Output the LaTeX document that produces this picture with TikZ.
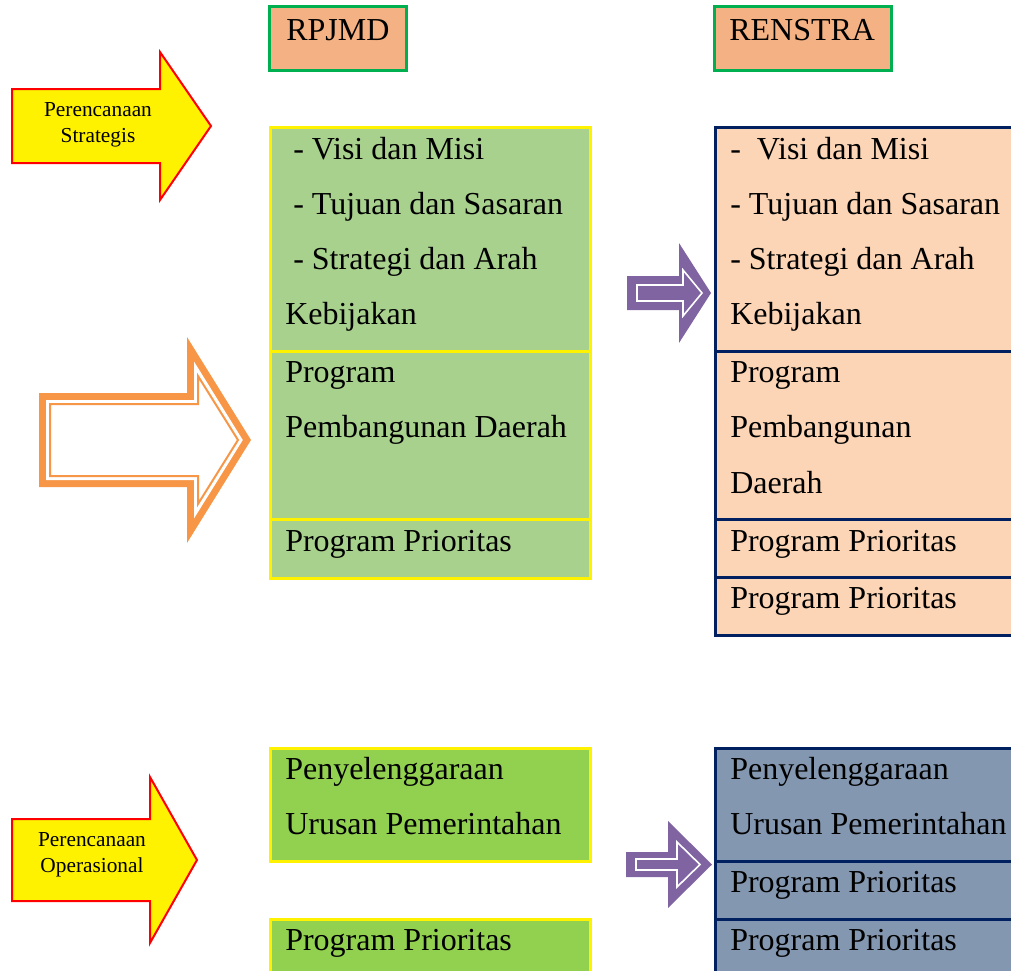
\documentclass[tikz,border=0pt]{standalone}
\usepackage{fontspec}
\setmainfont{Liberation Serif}

\definecolor{hdrfill}{HTML}{F4B183}
\definecolor{hdrline}{HTML}{00B050}
\definecolor{rpfill}{HTML}{A9D18E}
\definecolor{rsfill}{HTML}{FBD5B5}
\definecolor{opfill}{HTML}{92D050}
\definecolor{osfill}{HTML}{8497B0}
\definecolor{navy}{HTML}{002060}
\definecolor{purp}{HTML}{8064A2}
\definecolor{oranye}{HTML}{F79646}

\tikzset{
  hdr/.style={fill=hdrfill,draw=hdrline,line width=2.25pt},
  rpbox/.style={fill=rpfill,draw=yellow,line width=2.25pt},
  rsbox/.style={fill=rsfill,draw=navy,line width=2.25pt},
  opbox/.style={fill=opfill,draw=yellow,line width=2.25pt},
  osbox/.style={fill=osfill,draw=navy,line width=2.25pt},
  yarrow/.style={fill=yellow,draw=red,line width=1.5pt},
  txt/.style={anchor=base west,inner sep=0pt,font=\fontsize{24}{29}\selectfont},
  small/.style={align=center,inner sep=0pt,font=\fontsize{16}{19.5}\selectfont}
}

\begin{document}
\begin{tikzpicture}[x=0.75pt,y=-0.75pt]
  \useasboundingbox (0,0) rectangle (1011,971);
  \clip (0,0) rectangle (1011,971);

  % judul kolom
  \draw[hdr] (269,6) rectangle (406,70);
  \draw[hdr] (714,6) rectangle (891,70);
  \node[txt] (rpjmd) at (286,40) {RPJMD};
  \node[txt] (renstra) at (729,40) {RENSTRA};

  % panah kuning
  \draw[yarrow] (12,89)--(160,89)--(160,52)--(211,126)--(160,200)--(160,163)--(12,163)--cycle;
  \node[small] (strat) at (98,125) {Perencanaan\\Strategis};
  \draw[yarrow] (12,819)--(150,819)--(150,777)--(197,860)--(150,943)--(150,901)--(12,901)--cycle;
  \node[small] (oper) at (92,855) {Perencanaan\\Operasional};

  % panah oranye
  \fill[oranye] (39,393)--(187,393)--(187,337)--(251,440)--(187,543)--(187,487)--(39,487)--cycle;
  \fill[white] (46,400)--(194,400)--(194,361.5)--(242.8,440)--(194,518.5)--(194,480)--(46,480)--cycle;
  \draw[oranye,line width=1.5pt] (50,404)--(198,404)--(198,376)--(238,440)--(198,504)--(198,476)--(50,476)--cycle;

  % panah ungu
  \fill[purp] (627,276)--(679,276)--(679,243)--(711,293)--(679,343)--(679,310)--(627,310)--cycle;
  \draw[white,line width=1.2pt] (637,285)--(683,285)--(683,270)--(702,293)--(683,316)--(683,301)--(637,301)--cycle;
  \fill[purp] (626,852)--(668,852)--(668,821)--(712,864.5)--(668,908)--(668,877)--(626,877)--cycle;
  \draw[white,line width=1.2pt] (636,859)--(677,859)--(677,842)--(700,864.5)--(677,887)--(677,870)--(636,870)--cycle;

  % kotak RPJMD atas
  \draw[rpbox] (270,127) rectangle (590,351);
  \draw[rpbox] (270,351) rectangle (590,519);
  \draw[rpbox] (270,519) rectangle (590,578);
  \foreach \x/\y/\t [count=\i] in {293/159/{- Visi dan Misi}, 293/214/{- Tujuan dan Sasaran},
      293/269/{- Strategi dan Arah}, 285/324/Kebijakan, 285/382/Program,
      285/437/{Pembangunan Daerah}, 285/551/{Program Prioritas}}
    \node[txt] (rp\i) at (\x,\y) {\t};

  % kotak RENSTRA atas
  \draw[rsbox] (715,127) rectangle (1030,351);
  \draw[rsbox] (715,351) rectangle (1030,519);
  \draw[rsbox] (715,519) rectangle (1030,577);
  \draw[rsbox] (715,577) rectangle (1030,635);
  \foreach \y/\t [count=\i] in {159/{-\ \ Visi dan Misi}, 214/{- Tujuan dan Sasaran},
      269/{- Strategi dan Arah}, 324/Kebijakan, 382/Program, 437/Pembangunan,
      493/Daerah, 551/{Program Prioritas}, 608/{Program Prioritas}}
    \node[txt] (rs\i) at (730,\y) {\t};

  % kotak operasional
  \draw[opbox] (270,748) rectangle (590,861);
  \draw[opbox] (270,919) rectangle (590,990);
  \foreach \y/\t [count=\i] in {779/Penyelenggaraan, 834/{Urusan Pemerintahan}, 950/{Program Prioritas}}
    \node[txt] (op\i) at (285,\y) {\t};

  \draw[osbox] (715,748) rectangle (1030,861);
  \draw[osbox] (715,861) rectangle (1030,919);
  \draw[osbox] (715,919) rectangle (1030,990);
  \foreach \y/\t [count=\i] in {779/Penyelenggaraan, 834/{Urusan Pemerintahan},
      892/{Program Prioritas}, 950/{Program Prioritas}}
    \node[txt] (os\i) at (730,\y) {\t};
\end{tikzpicture}
\end{document}
